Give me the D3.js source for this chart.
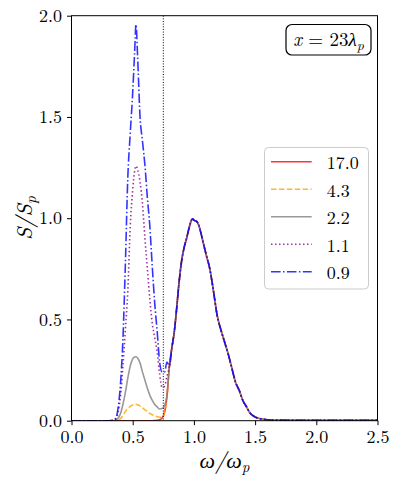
<!DOCTYPE html>
<html>
<head>
<meta charset="utf-8">
<script src="https://d3js.org/d3.v7.min.js"></script>
<style>
  body { margin: 0; background: #fff; }
</style>
</head>
<body>
<script>
// frequency grid below the main peak, one value per series
var lowOmega = [0, 0.30, 0.34, 0.36, 0.38, 0.40, 0.42, 0.44, 0.46, 0.48, 0.50, 0.515, 0.527,
                0.54, 0.56, 0.58, 0.60, 0.62, 0.64, 0.66, 0.68, 0.70, 0.72, 0.74, 0.76, 0.78];
var low170 = [0, 0, 0, 0, 0, 0, 0, 0, 0, 0, 0, 0, 0,
              0, 0, 0, 0, 0, 0, 0, 0.001, 0.002, 0.005, 0.013, 0.04, 0.12];
var low43  = [0, 0, 0, 0, 0.003, 0.01, 0.025, 0.045, 0.06, 0.071, 0.078, 0.081, 0.081,
              0.079, 0.073, 0.064, 0.054, 0.044, 0.036, 0.029, 0.024, 0.02, 0.017, 0.02, 0.042, 0.12];
var low22  = [0, 0, 0, 0.002, 0.012, 0.035, 0.08, 0.14, 0.21, 0.27, 0.305, 0.315, 0.316,
              0.31, 0.285, 0.24, 0.20, 0.16, 0.125, 0.10, 0.08, 0.068, 0.058, 0.06, 0.075, 0.125];
var low11  = [0, 0, 0.001, 0.008, 0.04, 0.12, 0.27, 0.45, 0.64, 0.96, 1.14, 1.23, 1.258,
              1.24, 1.18, 1.07, 0.90, 0.75, 0.60, 0.48, 0.41, 0.34, 0.23, 0.165, 0.17, 0.22];
var low09  = [0, 0, 0.002, 0.01, 0.06, 0.18, 0.40, 0.77, 1.20, 1.42, 1.62, 1.81, 1.957,
              1.80, 1.50, 1.38, 1.26, 1.10, 0.96, 0.76, 0.58, 0.44, 0.29, 0.24, 0.24, 0.29];

// main peak around omega_p, shared by all series
var mainOmega = [0.80, 0.82, 0.84, 0.86, 0.88, 0.90, 0.92, 0.94, 0.96, 0.98, 0.99, 1.00, 1.02,
                 1.04, 1.06, 1.08, 1.10, 1.13, 1.16, 1.19, 1.22, 1.25, 1.28, 1.31, 1.34, 1.37,
                 1.40, 1.43, 1.46, 1.49, 1.52, 1.56, 1.60, 1.70, 2.00, 2.50];
var mainBand  = [0.27, 0.36, 0.44, 0.56, 0.69, 0.79, 0.855, 0.90, 0.95, 0.99, 0.997, 0.99, 0.985,
                 0.965, 0.92, 0.87, 0.82, 0.75, 0.64, 0.52, 0.45, 0.39, 0.33, 0.26, 0.19, 0.15,
                 0.10, 0.068, 0.037, 0.022, 0.013, 0.008, 0.005, 0.003, 0.002, 0.002];

var seriesLabels = ["17.0", "4.3", "2.2", "1.1", "0.9"];
var seriesLow = [low170, low43, low22, low11, low09];
var xTicks = [0, 0.5, 1.0, 1.5, 2.0, 2.5];
var yTicks = [0, 0.5, 1.0, 1.5, 2.0];
var cutoff = 0.75;

var styles = [
    {color: "#ff0000", dash: null},
    {color: "#ffa500", dash: "5.5,2.4"},
    {color: "#808080", dash: null},
    {color: "#800080", dash: "1.5,2.5"},
    {color: "#0000ff", dash: "9.6,2.4,1.5,2.4"}
];

var FONT = "'Latin Modern Roman', 'Liberation Serif', serif";

var W = 399, H = 486;
var x = d3.scaleLinear().domain([0, 2.5]).range([71.5, 377.5]);
var y = d3.scaleLinear().domain([0, 2.0]).range([420.7, 15.7]);

var svg = d3.select("body").append("svg")
    .attr("width", W)
    .attr("height", H)
    .attr("xmlns", "http://www.w3.org/2000/svg");

svg.append("defs").append("clipPath").attr("id", "plot")
    .append("rect")
    .attr("x", x(0)).attr("y", y(2))
    .attr("width", x(2.5) - x(0)).attr("height", y(0) - y(2));

var series = seriesLabels.map(function(lab, i) {
    var pts = lowOmega.map(function(w, j) { return [w, seriesLow[i][j]]; });
    mainOmega.forEach(function(w, j) { pts.push([w, mainBand[j]]); });
    return {label: lab, points: pts, style: styles[i]};
});

var line = d3.line()
    .x(function(d) { return x(d[0]); })
    .y(function(d) { return y(d[1]); })
    .curve(d3.curveMonotoneX);

var g = svg.append("g").attr("clip-path", "url(#plot)");

g.selectAll("path.series")
    .data(series)
    .enter().append("path")
    .attr("class", "series")
    .attr("d", function(d) { return line(d.points); })
    .attr("fill", "none")
    .attr("stroke", function(d) { return d.style.color; })
    .attr("stroke-opacity", 0.8)
    .attr("stroke-width", 1.6)
    .attr("stroke-dasharray", function(d) { return d.style.dash; });

// vertical dotted marker
svg.append("line")
    .attr("x1", x(cutoff)).attr("x2", x(cutoff))
    .attr("y1", y(2)).attr("y2", y(0))
    .attr("stroke", "#000")
    .attr("stroke-width", 1)
    .attr("stroke-dasharray", "1,1.65");

// axes
var xAxis = svg.append("g")
    .attr("transform", "translate(0," + y(0) + ")")
    .call(d3.axisBottom(x).tickValues(xTicks).tickFormat(d3.format(".1f")).tickSize(4.5).tickPadding(5));
var yAxis = svg.append("g")
    .attr("transform", "translate(" + x(0) + ",0)")
    .call(d3.axisLeft(y).tickValues(yTicks).tickFormat(d3.format(".1f")).tickSize(4.5).tickPadding(5));

[xAxis, yAxis].forEach(function(a) {
    a.attr("font-family", null).attr("font-size", null);
    a.select(".domain").remove();
    a.selectAll(".tick line").attr("stroke", "#000").attr("stroke-width", 1);
    a.selectAll(".tick text")
        .attr("fill", "#000")
        .style("font-size", "18px")
        .style("font-family", FONT);
});

svg.append("rect")
    .attr("x", x(0)).attr("y", y(2))
    .attr("width", x(2.5) - x(0)).attr("height", y(0) - y(2))
    .attr("fill", "none")
    .attr("stroke", "#000")
    .attr("stroke-width", 1);

// axis labels
var xl = svg.append("text")
    .attr("x", (x(0) + x(2.5)) / 2)
    .attr("y", 468)
    .attr("text-anchor", "middle")
    .style("font-family", FONT)
    .style("font-size", "22px")
    .style("font-style", "italic");
xl.append("tspan").text("ω/ω");
xl.append("tspan").attr("dy", 4).style("font-size", "15px").text("p");

var yl = svg.append("text")
    .attr("transform", "translate(32," + ((y(0) + y(2)) / 2) + ")rotate(-90)")
    .attr("text-anchor", "middle")
    .style("font-family", FONT)
    .style("font-size", "22px")
    .style("font-style", "italic");
yl.append("tspan").text("S/S");
yl.append("tspan").attr("dy", 4).style("font-size", "15px").text("p");

// legend
var legend = svg.append("g");
legend.append("rect")
    .attr("x", 264.5).attr("y", 147.5)
    .attr("width", 104).attr("height", 141.5)
    .attr("rx", 4)
    .attr("fill", "#fff").attr("fill-opacity", 0.8)
    .attr("stroke", "#cccccc").attr("stroke-width", 1);

var rows = legend.selectAll("g.row")
    .data(series)
    .enter().append("g")
    .attr("class", "row")
    .attr("transform", function(d, i) { return "translate(0," + (161.7 + i * 27.5) + ")"; });
rows.append("line")
    .attr("x1", 271).attr("x2", 311.7)
    .attr("stroke", function(d) { return d.style.color; })
    .attr("stroke-opacity", 0.8)
    .attr("stroke-width", 1.6)
    .attr("stroke-dasharray", function(d) { return d.style.dash; });
rows.append("text")
    .attr("x", 326.7).attr("y", 7.5)
    .style("font-family", FONT)
    .style("font-size", "18px")
    .text(function(d) { return d.label; });

// position annotation
svg.append("rect")
    .attr("x", 286).attr("y", 24.5)
    .attr("width", 85).attr("height", 30.5)
    .attr("rx", 6)
    .attr("fill", "#fff")
    .attr("stroke", "#000").attr("stroke-width", 1.2);
var ann = svg.append("text")
    .attr("x", 328.5).attr("y", 46)
    .attr("text-anchor", "middle")
    .style("font-family", FONT)
    .style("font-size", "19px");
ann.append("tspan").style("font-style", "italic").text("x");
ann.append("tspan").text(" = 23");
ann.append("tspan").style("font-style", "italic").text("λ");
ann.append("tspan").attr("dy", 4).style("font-size", "14px").style("font-style", "italic").text("p");
</script>
</body>
</html>
